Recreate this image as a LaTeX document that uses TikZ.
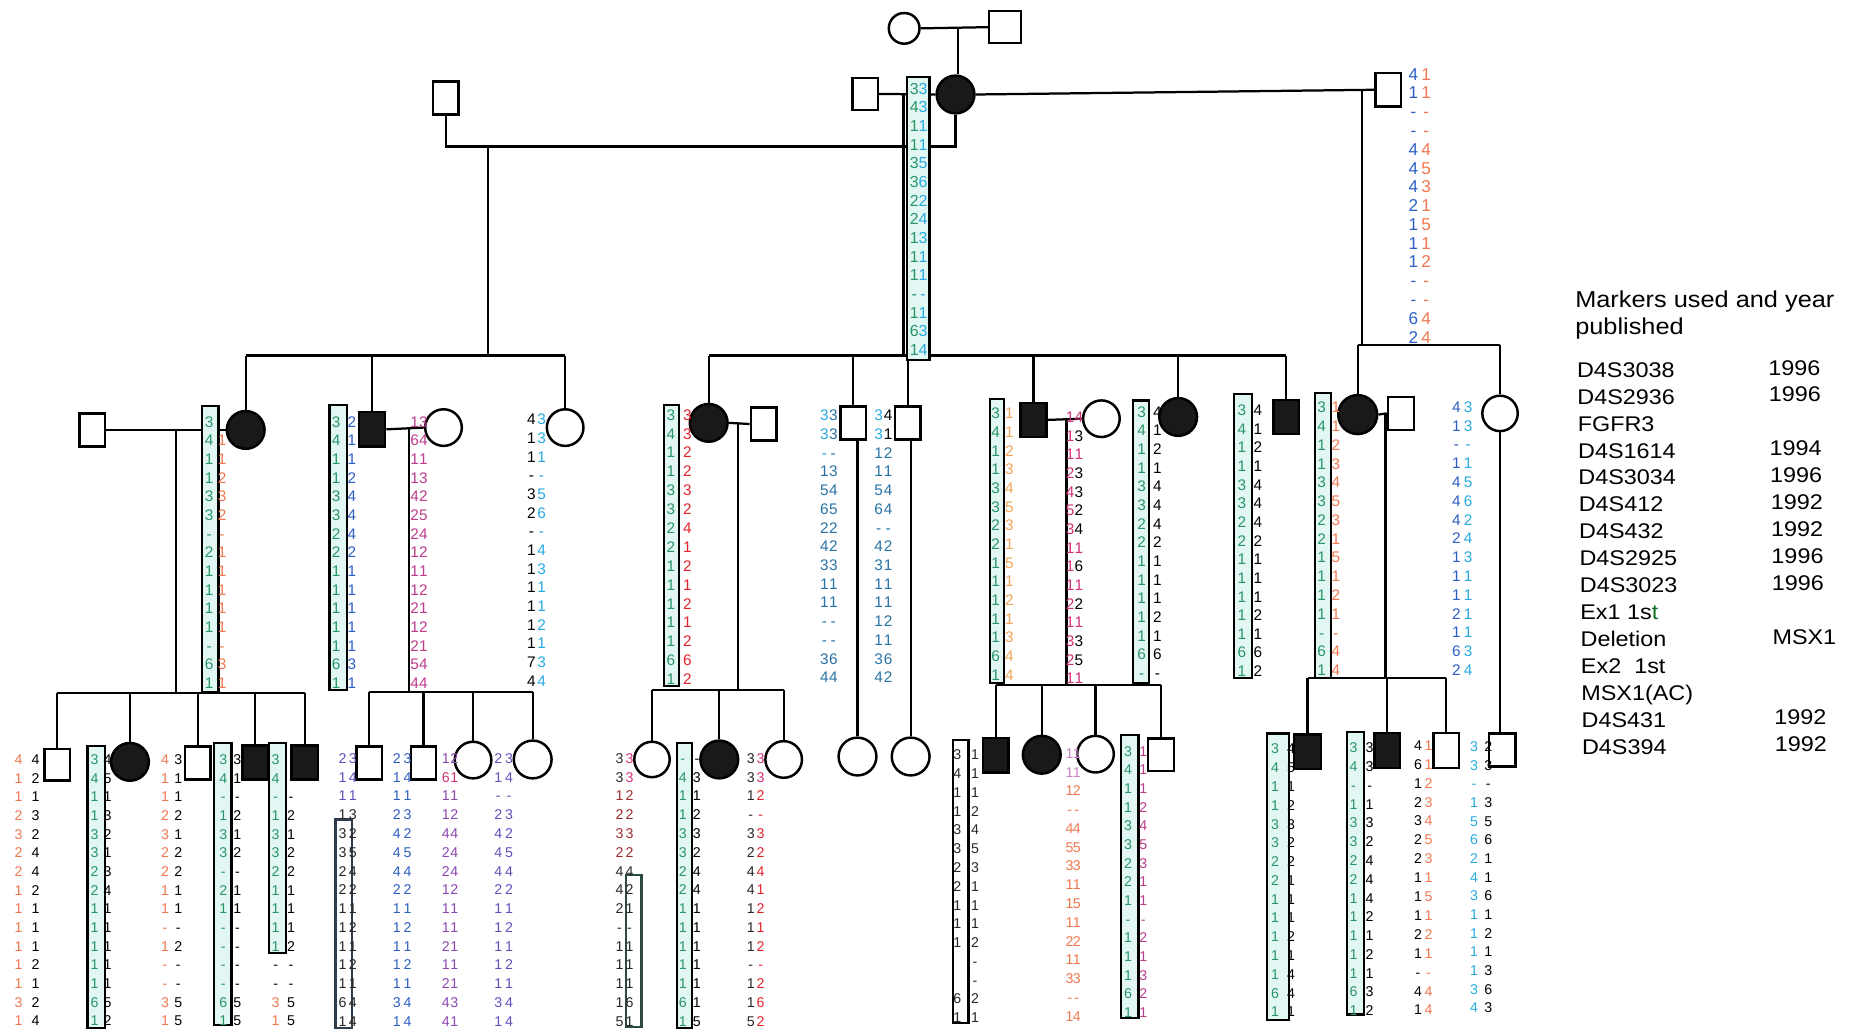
\documentclass[tikz,border=0pt]{standalone}
\usepackage{fontspec}
\setmainfont{Liberation Sans}
\pgfdeclarelayer{bg}
\pgfdeclarelayer{mid}
\pgfsetlayers{bg,mid,main}
\definecolor{hgreen}{RGB}{40,150,105}
\definecolor{hbox}{RGB}{226,246,243}
\definecolor{hlblue}{RGB}{40,170,225}
\definecolor{hblue}{RGB}{45,95,195}
\definecolor{hteal}{RGB}{40,115,165}
\definecolor{horange}{RGB}{240,120,80}
\definecolor{hlorange}{RGB}{240,165,90}
\definecolor{hred}{RGB}{230,35,45}
\definecolor{hdred}{RGB}{160,45,45}
\definecolor{hpink}{RGB}{210,50,120}
\definecolor{hmag}{RGB}{190,60,140}
\definecolor{hpurple}{RGB}{140,70,175}
\definecolor{hpblue}{RGB}{95,80,190}
\definecolor{hlpurple}{RGB}{200,130,200}
\definecolor{hslate}{RGB}{45,60,75}
\definecolor{hdgray}{RGB}{40,40,40}
\definecolor{hfill}{RGB}{25,25,25}
\definecolor{hdgreen}{RGB}{20,110,40}
\def\hfs{13}
\def\hsp{15.8}
\newcommand\hcol[5]{%
  \foreach \v [count=\i from 0] in {#5}{%
    \node[hd, text=#4] (#1-\i) at (#2, {#3+\i*\hsp+0.36*\hfs}) {\v};
  }%
}
\tikzset{
  ln/.style={line width=1.9pt},
  m/.style={draw, line width=2.1pt, fill=white, rectangle, minimum width=21.5pt, minimum height=28pt, inner sep=0pt},
  mf/.style={m, fill=hfill},
  f/.style={draw, line width=2.1pt, fill=white, circle, minimum size=31pt, inner sep=0pt},
  ff/.style={f, fill=hfill},
  hbx/.style={draw, line width=1.9pt, fill=hbox},
  obx/.style={draw=hslate, line width=2.1pt},
  hd/.style={inner sep=0pt, anchor=base, font=\fontsize{\hfs}{\hfs}\selectfont},
  lg/.style={inner sep=0pt, anchor=base west, font=\fontsize{18}{18}\selectfont, xscale=1.1},
  lgt/.style={inner sep=0pt, anchor=base west, font=\fontsize{19.5}{19.5}\selectfont, xscale=1.1}
}
\begin{document}
\begin{tikzpicture}[x=1pt,y=-1pt]
\useasboundingbox (0,0) rectangle (1568,873);
\begin{pgfonlayer}{bg}\fill[white] (0,0) rectangle (1568,873);\end{pgfonlayer}

% ---------- symbols ----------
% Gen I
\node[f, minimum size=26pt] (I1) at (765.5,24) {};
\node[m, minimum width=27pt, minimum height=27pt] (I2) at (851,23) {};
% Gen II
\node[m] (II0) at (377.5,83) {};
\node[m, minimum height=27pt] (II1) at (732.5,79.5) {};
\node[ff, minimum size=32pt] (II2) at (809,80) {};
\node[m] (II3) at (1175.5,76) {};
% Gen III left
\node[m] (La0) at (78,364) {};
\node[ff, minimum size=32pt] (La1) at (208,364) {};
\node[mf, minimum width=22pt, minimum height=29pt] (La2) at (315,363.5) {};
\node[f] (La3) at (375.5,362) {};
\node[f] (La4) at (478.5,362) {};
% Gen III middle
\node[ff, minimum size=32pt] (Mb1) at (600,358) {};
\node[m] (Mb0) at (646.5,359) {};
\node[m] (Mb2) at (722.5,358) {};
\node[m] (Mb3) at (768.5,358) {};
\node[mf, minimum width=22pt, minimum height=29pt] (Mb4) at (875,355.5) {};
\node[f] (Mb5) at (932.5,354.5) {};
\node[ff, minimum size=32pt] (Mb6) at (997.5,353) {};
\node[mf, minimum width=22pt, minimum height=28.5pt] (Mb7) at (1089,353) {};
% Gen III right
\node[ff, minimum size=33pt] (Rc1) at (1149.5,351) {};
\node[m, minimum width=22pt] (Rc0) at (1186,350) {};
\node[f, minimum size=30pt] (Rc2) at (1270,350) {};
% Gen IV
\node[m, minimum height=27pt] (A1) at (48.5,647.5) {};
\node[ff, minimum size=32pt] (A2) at (110,645) {};
\node[m] (A3) at (167.5,646) {};
\node[mf, minimum height=29pt] (A4) at (216,645.5) {};
\node[mf, minimum width=22.5pt, minimum height=29pt] (A5) at (258,645.5) {};
\node[m] (B1) at (312.5,646) {};
\node[m] (B2) at (358.5,646) {};
\node[f] (B3) at (400.5,643.5) {};
\node[f, minimum size=32pt] (B4) at (451,643) {};
\node[f, minimum size=30pt] (C1) at (552,643) {};
\node[ff, minimum size=32pt] (C2) at (609,643) {};
\node[f] (C3) at (663.5,643) {};
\node[f, minimum size=32pt] (D1) at (726,640.5) {};
\node[f, minimum size=32pt] (D2) at (771,640.5) {};
\node[mf, minimum height=29pt] (E1) at (843,639.5) {};
\node[ff, minimum size=32pt] (E2) at (882,639) {};
\node[f] (E3) at (927.5,638.5) {};
\node[m, minimum width=22pt, minimum height=27.5pt] (E4) at (983,639) {};
\node[mf, minimum width=22.5pt, minimum height=29pt] (F1) at (1107,636.5) {};
\node[mf, minimum height=29.5pt] (F2) at (1174.5,635.5) {};
\node[m, minimum height=29.5pt] (F3) at (1224.5,635.5) {};
\node[m, minimum width=22.5pt] (G1) at (1272,635) {};

% ---------- connectors ----------
\begin{pgfonlayer}{bg}
\draw[ln] (I1.east) -- (I2.west);
\coordinate (dI) at (811,23.5);
\draw[ln] (dI) -- (dI |- II2.north);
\draw[ln] (II1.east) -- (II2.west);
\draw[ln] (II2.east) -- (II3.west);
\coordinate (mII) at (809,124);
\draw[ln] (II0.south) |- (mII) -- (II2.south);
% left sibship
\coordinate (dL) at (413,124);
\coordinate (sL) at (413,301);
\draw[ln] (dL) -- (sL);
\draw[ln] (La1.north |- sL) -- (La4.north |- sL);
\foreach \n in {La1,La2,La4} \draw[ln] (\n.north |- sL) -- (\n.north);
% middle sibship
\coordinate (dM) at (765,80);
\coordinate (sM) at (765,301);
\draw[ln] (dM) -- (sM);
\draw[ln] (Mb1.north |- sM) -- (Mb7.north |- sM);
\foreach \n in {Mb1,Mb2,Mb3,Mb4,Mb6,Mb7} \draw[ln] (\n.north |- sM) -- (\n.north);
% right sibship
\coordinate (dR) at (1153,76.5);
\coordinate (sR) at (1153,292);
\draw[ln] (dR) -- (sR);
\draw[ln] (Rc1.north |- sR) -- (Rc2.north |- sR);
\foreach \n in {Rc1,Rc2} \draw[ln] (\n.north |- sR) -- (\n.north);
% Gen III couples
\draw[ln] (La0.east) -- (La1.west);
\coordinate (dLa) at (149,364);
\coordinate (sLa) at (149,587);
\draw[ln] (dLa) -- (sLa);
\draw[ln] (A1.north |- sLa) -- (A5.north |- sLa);
\foreach \n in {A1,A2,A3,A4,A5} \draw[ln] (\n.north |- sLa) -- (\n.north);
\draw[ln] (La2.east) -- (La3.west);
\coordinate (dLb) at (346,362);
\coordinate (sLb) at (346,586);
\draw[ln] (dLb) -- (sLb);
\draw[ln] (B1.north |- sLb) -- (B4.north |- sLb);
\foreach \n in {B1,B2,B3,B4} \draw[ln] (\n.north |- sLb) -- (\n.north);
\draw[ln] (Mb1.east) -- (Mb0.west);
\coordinate (dMa) at (625,358);
\coordinate (sMa) at (625,584);
\draw[ln] (dMa) -- (sMa);
\draw[ln] (C1.north |- sMa) -- (C3.north |- sMa);
\foreach \n in {C1,C2,C3} \draw[ln] (\n.north |- sMa) -- (\n.north);
\draw[ln] (D1.north) -- (D1.north |- Mb2.south);
\draw[ln] (D2.north) -- (D2.north |- Mb3.south);
\draw[ln] (Mb4.east) -- (Mb5.west);
\coordinate (dMb) at (903,355);
\coordinate (sMb) at (903,580);
\draw[ln] (dMb) -- (sMb);
\draw[ln] (E1.north |- sMb) -- (E4.north |- sMb);
\foreach \n in {E1,E2,E3,E4} \draw[ln] (\n.north |- sMb) -- (\n.north);
\draw[ln] (Rc1.east) -- (Rc0.west);
\coordinate (dRc) at (1173,350);
\coordinate (sRc) at (1173,574);
\draw[ln] (dRc) -- (sRc);
\draw[ln] (F1.north |- sRc) -- (F3.north |- sRc);
\foreach \n in {F1,F2,F3} \draw[ln] (\n.north |- sRc) -- (\n.north);
\draw[ln] (Rc2.south) -- (Rc2.south |- G1.north);
\end{pgfonlayer}

% ---------- haplotype boxes ----------
\begin{pgfonlayer}{mid}
\draw[hbx] (768,65) rectangle (787,305);
\draw[hbx] (171,344) rectangle (185,586);
\draw[hbx] (279,343) rectangle (294,584);
\draw[hbx] (562,343) rectangle (575,581);
\draw[hbx] (838,338) rectangle (850,578);
\draw[hbx] (959,339) rectangle (973,578);
\draw[hbx] (1045,333.5) rectangle (1060,574);
\draw[hbx] (1113.6,332.5) rectangle (1127,574);
\draw[hbx] (74,631.6) rectangle (89,870.5);
\draw[hbx] (181,629) rectangle (196,868);
\draw[hbx] (228,629) rectangle (242,807);
\draw[hbx] (573,629) rectangle (586,870.5);
\draw[hbx] (949,622) rectangle (964,862);
\draw[hbx] (1072.7,621) rectangle (1091,863.6);
\draw[hbx] (1140.5,620) rectangle (1155,859);
\draw[obx] (284,694) rectangle (298,870.5);
\draw[obx, draw={rgb,255:red,45;green,75;blue,60}] (530,741) rectangle (543,869.5);
\draw[obx, draw=black] (807,626.5) rectangle (820,866);
\end{pgfonlayer}

% ---------- haplotype texts ----------
% Gen II
\def\hfs{13.5}\def\hsp{15.8}
\hcol{Ag}{774}{75}{hgreen}{3,4,1,1,3,3,2,2,1,1,1,-,1,6,1}
\hcol{Ab}{781.5}{75}{hlblue}{3,3,1,1,5,6,2,4,3,1,1,-,1,3,4}
\def\hfs{14.5}\def\hsp{15.9}
\hcol{Ba}{1196.6}{62.6}{hblue}{4,1,-,-,4,4,4,2,1,1,1,-,-,6,2}
\hcol{Bb}{1207.5}{62.6}{horange}{1,1,-,-,4,5,3,1,5,1,2,-,-,4,4}
% Gen III
\def\hfs{13}\def\hsp{15.8}
\hcol{Cg}{177}{357}{hgreen}{3,4,1,1,3,3,-,2,1,1,1,1,-,6,1}
\hcol{Co}{188}{357}{horange}{,1,1,2,3,2,-,1,1,1,1,1,-,3,1}
\hcol{Dg}{284.5}{357}{hgreen}{3,4,1,1,3,3,2,2,1,1,1,1,1,6,1}
\hcol{Db}{298}{357}{hblue}{2,1,1,2,4,4,4,2,1,1,1,1,1,3,1}
\hcol{Ea}{351}{357}{hmag}{1,6,1,1,4,2,2,1,1,1,2,1,2,5,4}
\hcol{Eb}{358.5}{357}{hmag}{3,4,1,3,2,5,4,2,1,2,1,2,1,4,4}
\hcol{Fa}{450}{355}{black}{4,1,1,-,3,2,-,1,1,1,1,1,1,7,4}
\hcol{Fb}{458.5}{355}{hlblue}{3,3,1,-,5,6,-,4,3,1,1,2,1,3,4}
\def\hsp{16}
\hcol{Gg}{568}{351}{hgreen}{3,4,1,1,3,3,2,2,1,1,1,1,1,6,1}
\hcol{Gr}{582}{351}{hred}{3,3,2,2,3,2,4,1,2,1,2,1,2,6,2}
\def\hsp{15.85}
\hcol{Hc}{698}{351.5}{hlblue}{3,3,-}
\hcol{Ha}{698}{351.5}{hteal}{,,,1,5,6,2,4,3,1,1,-,-,3,4}
\hcol{Hb}{705.5}{351.5}{hteal}{3,3,-,3,4,5,2,2,3,1,1,-,-,6,4}
\hcol{Ic}{744}{351.5}{hlblue}{3,3}
\hcol{Ia}{744}{351.5}{hteal}{,,1,1,5,6,-,4,3,1,1,1,1,3,4}
\hcol{Id}{752}{351.5}{black}{4,1}
\hcol{Ib}{752}{351.5}{hteal}{,,2,1,4,4,-,2,1,1,1,2,1,6,2}
\def\hsp{15.8}
\hcol{Jg}{843}{350}{hgreen}{3,4,1,1,3,3,2,2,1,1,1,1,1,6,1}
\hcol{Jo}{854.5}{350}{hlorange}{1,1,2,3,4,5,3,1,5,1,2,1,3,4,4}
\hcol{Ka}{906}{353}{hpink}{1,1,1,2,4,5,3,1,1,1,2,1,3,2,1}
\hcol{Kb}{913.5}{353}{hpink}{4,,1,,,,,1,,1,,1,,,1}
\hcol{Kc}{913.5}{353}{black}{,3,,3,3,2,4,,6,,2,,3,5,}
\hcol{Lg}{966.5}{348.5}{hgreen}{3,4,1,1,3,3,2,2,1,1,1,1,1,6,-}
\hcol{Lb}{980}{348.5}{black}{4,1,2,1,4,4,4,2,1,1,1,2,1,6,-}
\hcol{Mg}{1051.5}{347}{hgreen}{3,4,1,1,3,3,2,2,1,1,1,1,1,6,1}
\hcol{Mk}{1065}{347}{black}{4,1,2,1,4,4,4,2,1,1,1,2,1,6,2}
\def\hsp{15.9}
\hcol{Ng}{1119}{344.7}{hgreen}{3,4,1,1,3,3,2,2,1,1,1,1,-,6,1}
\hcol{No}{1131}{344.7}{horange}{1,1,2,3,4,5,3,1,5,1,2,1,-,4,4}
\hcol{Oa}{1233}{344.5}{hblue}{4,1,-,1,4,4,4,2,1,1,1,2,1,6,2}
\hcol{Ob}{1243}{344.5}{hlblue}{3,3,-,1,5,6,2,4,3,1,1,1,1,3,4}
% Gen IV
\def\hfs{12}\def\hsp{15.8}
\hcol{Po}{15.7}{643}{horange}{4,1,1,2,3,2,2,1,1,1,1,1,1,3,1}
\hcol{Pk}{30.2}{643}{black}{4,2,1,3,2,4,4,2,1,1,1,2,1,2,4}
\hcol{Qg}{80}{643}{hgreen}{3,4,1,1,3,3,2,2,1,1,1,1,1,6,1}
\hcol{Qk}{91}{643}{black}{4,5,1,3,2,1,3,4,1,1,1,1,1,5,2}
\hcol{Ro}{139.7}{643}{horange}{4,1,1,2,3,2,2,1,1,-,1,-,-,3,1}
\hcol{Rk}{151}{643}{black}{3,1,1,2,1,2,2,1,1,-,2,-,-,5,5}
\hcol{Sg}{189}{643}{hgreen}{3,4,-,1,3,3,-,2,1,-,-,-,-,6,1}
\hcol{Sk}{201}{643}{black}{3,1,-,2,1,2,-,1,1,-,-,-,-,5,5}
\hcol{Tg}{233.4}{643}{hgreen}{3,4,-,1,3,3,2,1,1,1,1}
\hcol{Tb}{233.4}{643}{black}{,,,,,,,,,,,-,-}
\hcol{To}{233.4}{643}{horange}{,,,,,,,,,,,,,3,1}
\hcol{Tk}{246.4}{643}{black}{,,-,2,1,2,2,1,1,1,2,-,-,5,5}
\def\hsp{15.9}
\hcol{Ua}{290}{642}{hpblue}{2,1,1}
\hcol{Ub}{290}{642}{hdgray}{,,,1,3,3,2,2,1,1,1,1,1,6,1}
\hcol{Uc}{298.7}{642}{hpblue}{3,4,1}
\hcol{Ud}{298.7}{642}{hdgray}{,,,3,2,5,4,2,1,2,1,2,1,4,4}
\hcol{Va}{336}{642}{hblue}{2,1,1,2,4,4,4,2,1,1,1,1,1,3,1}
\hcol{Vb}{345}{642}{hblue}{3,4,1,3,2,5,4,2,1,2,1,2,1,4,4}
\hcol{Wa}{377.4}{642}{hpurple}{1,,1,1,4,2,2,1,1,1,2,1,2,4,4}
\hcol{Wc}{377.4}{642}{hpink}{,6}
\hcol{Wb}{384.6}{642}{hpurple}{2,,1,2,4,4,4,2,1,1,1,1,1,3,1}
\hcol{Wd}{384.6}{642}{hpink}{,1}
\hcol{Xa}{421.8}{642}{hpblue}{2,1,-,2,4,4,4,2,1,1,1,1,1,3,1}
\hcol{Xb}{431}{642}{hpblue}{3,4,-,3,2,5,4,2,1,2,1,2,1,4,4}
\hcol{Ya}{524.5}{642}{hdgray}{3,3,,,,,4,4,2,-,1,1,1,1,5}
\hcol{Yb}{524.5}{642}{hdred}{,,1,2,3,2}
\hcol{Yc}{533}{642}{hpink}{3,3}
\hcol{Yd}{533}{642}{hdred}{,,2,2,3,2}
\hcol{Ye}{533}{642}{hdgray}{,,,,,,4,2,1,-,1,1,1,6,1}
\hcol{Zg}{578}{642}{hgreen}{-,4,1,1,3,3,2,2,1,1,1,1,1,6,1}
\hcol{Zk}{590}{642}{black}{-,3,1,2,3,2,4,4,1,1,1,1,1,1,5}
\hcol{AAa}{635.6}{642}{hdgray}{3,3,1,-,3,2,4,4,1,1,1,-,1,1,5}
\hcol{AAc}{644}{642}{hpink}{3,3}
\hcol{AAb}{644}{642}{hred}{,,2,-,3,2,4,1,2,1,2,-,2,6,2}
\hcol{BBa}{810.5}{639}{hdgray}{3,4,1,1,3,3,2,2,1,1,1,,,6,1}
\hcol{BBb}{825.5}{639}{hdgray}{1,1,1,2,4,5,3,1,1,1,2,-,-,2,1}
\hcol{CCc}{905.6}{637.7}{hlpurple}{1,1}
\hcol{CCa}{905.6}{637.7}{horange}{,,1,-,4,5,3,1,1,1,2,1,3,-,1}
\hcol{CCd}{911.7}{637.7}{hlpurple}{1,1}
\hcol{CCb}{911.7}{637.7}{horange}{,,2,-,4,5,3,1,5,1,2,1,3,-,4}
\def\hsp{15.8}
\hcol{DDg}{955}{636}{hgreen}{3,4,1,1,3,3,2,2,1,-,1,1,1,6,1}
\hcol{DDp}{968}{636}{hmag}{1,1,1,2,4,5,3,1,1,-,2,1,3,2,1}
\def\hsp{15.9}
\hcol{EEg}{1079.5}{634}{hgreen}{3,4,1,1,3,3,2,2,1,1,1,1,1,6,1}
\hcol{EEk}{1093}{634}{black}{4,5,1,2,3,2,2,1,1,1,2,1,4,4,1}
\hcol{FFg}{1146}{633}{hgreen}{3,4,-,1,3,3,2,2,1,1,1,1,1,6,1}
\hcol{FFk}{1159.6}{633}{black}{3,3,-,1,3,2,4,4,4,2,1,2,1,3,2}
\def\hsp{16}
\hcol{GGk}{1200.6}{631}{black}{4,6,1,2,3,2,2,1,1,1,2,1,-,4,1}
\hcol{GGo}{1209.5}{631}{horange}{1,1,2,3,4,5,3,1,5,1,2,1,-,4,4}
\def\hsp{15.8}
\hcol{HHb}{1248}{632}{hlblue}{3,3,-,1,5,6,2,4,3,1,1,1,1,3,4}
\hcol{HHk}{1260}{632}{black}{2,3,-,3,5,6,1,1,6,1,2,1,3,6,3}

% ---------- legend ----------
\node[lgt] (lt1) at (1333.5,260.5) {Markers used and year};
\node[lgt] (lt2) at (1333.5,283.6) {published};
\node[lg] (k0) at (1335,319.5) {D4S3038};
\node[lg] (k1) at (1335.3,342.3) {D4S2936};
\node[lg] (k2) at (1335.6,365.1) {FGFR3};
\node[lg] (k3) at (1335.9,387.8) {D4S1614};
\node[lg] (k4) at (1336.2,410.6) {D4S3034};
\node[lg] (k5) at (1336.5,433.4) {D4S412};
\node[lg] (k6) at (1336.8,456.2) {D4S432};
\node[lg] (k7) at (1337.1,479) {D4S2925};
\node[lg] (k8) at (1337.4,501.7) {D4S3023};
\node[lg] (k9) at (1337.7,524.5) {Ex1 1s\textcolor{hdgreen}{t}};
\node[lg] (k10) at (1338,547.3) {Deletion};
\node[lg] (k11) at (1338.3,570.1) {Ex2\ \ 1st};
\node[lg] (k12) at (1338.6,592.9) {MSX1(AC)};
\node[lg] (k13) at (1338.9,615.6) {D4S431};
\node[lg] (k14) at (1339.2,638.4) {D4S394};
\node[lg] (y0) at (1497,317.5) {1996};
\node[lg] (y1) at (1497.4,340.3) {1996};
\node[lg] (y3) at (1498,385.8) {1994};
\node[lg] (y4) at (1498.5,408.6) {1996};
\node[lg] (y5) at (1499,431.4) {1992};
\node[lg] (y6) at (1499.3,454.2) {1992};
\node[lg] (y7) at (1499.6,477) {1996};
\node[lg] (y8) at (1500,499.7) {1996};
\node[lg] (y10) at (1500.5,545.3) {MSX1};
\node[lg] (y13) at (1502,613.6) {1992};
\node[lg] (y14) at (1502.4,636.4) {1992};
\end{tikzpicture}
\end{document}
